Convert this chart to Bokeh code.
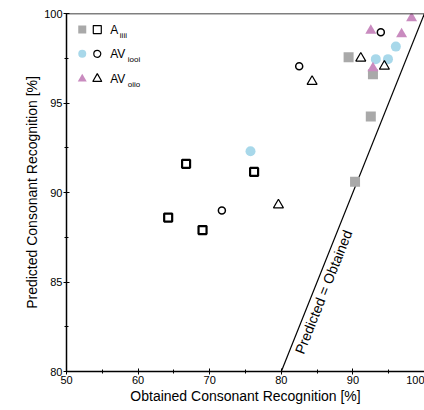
from bokeh.plotting import figure
from bokeh.models import Span, Range1d
from bokeh.core.properties import value
from bokeh.embed import file_html
from bokeh.resources import INLINE
import math

# Data (obtained x, predicted y)
a_filled_x = [89.4, 92.8, 92.5, 90.3]
a_filled_y = [97.55, 96.6, 94.25, 90.6]
a_open_x = [66.7, 76.2, 64.2, 69.0]
a_open_y = [91.6, 91.15, 88.6, 87.9]

av_i_filled_x = [75.7, 93.2, 94.9, 96.0]
av_i_filled_y = [92.3, 97.45, 97.45, 98.15]
av_i_open_x = [71.7, 82.5, 93.9]
av_i_open_y = [89.0, 97.05, 98.95]

av_o_filled_x = [92.5, 96.8, 98.2, 92.8]
av_o_filled_y = [99.05, 98.85, 99.75, 96.95]
av_o_open_x = [84.3, 91.1, 94.4, 79.6]
av_o_open_y = [96.2, 97.5, 97.05, 89.3]

identity = [80, 100]

legend_rows_y = [99.1, 97.75, 96.35]
legend_main = ["A", "AV", "AV"]
legend_sub = ["iiii", "iooi", "oiio"]

GRAY = "#a9a9a9"
BLUE = "#a8d8ea"
PINK = "#c98bbf"
FONT = "Liberation Sans"

p = figure(width=424, height=406, output_backend="svg", toolbar_location=None,
           x_range=Range1d(50, 100), y_range=Range1d(80, 100),
           min_border_left=66, min_border_top=13, min_border_right=0, min_border_bottom=30)
p.grid.visible = False
p.outline_line_color = None
p.background_fill_color = "white"
p.border_fill_color = "white"

for ax in (p.xaxis[0], p.yaxis[0]):
    ax.axis_line_color = "black"
    ax.axis_line_width = 1.5
    ax.major_tick_line_color = "black"
    ax.minor_tick_line_color = "black"
    ax.major_tick_in = 3
    ax.major_tick_out = 3
    ax.minor_tick_in = 2
    ax.minor_tick_out = 2
    ax.major_label_text_font = FONT
    ax.major_label_text_font_size = "11px"
    ax.major_label_text_color = "black"
    ax.axis_label_text_font = FONT
    ax.axis_label_text_font_size = "14px"
    ax.axis_label_text_font_style = "normal"
    ax.axis_label_text_color = "black"
    ax.major_label_standoff = 1
    ax.axis_label_standoff = 1
    ax.ticker.num_minor_ticks = 2

p.xaxis.ticker.desired_num_ticks = 5
p.yaxis.ticker.desired_num_ticks = 4
p.xaxis.axis_label = "Obtained Consonant Recognition [%]"
p.yaxis.axis_label = "Predicted Consonant Recognition [%]"

p.add_layout(Span(location=100, dimension="width", line_color="black", line_width=1.5))

# identity line
p.line(identity, identity, line_color="black", line_width=1.2)
p.text(x=[85.9], y=[84.45], text=["Predicted = Obtained"], angle=math.atan2(17.95, 7.16),
       text_font=value(FONT), text_font_size="14px", text_align="center",
       text_baseline="middle", text_color="black")

# data
p.scatter(a_filled_x, a_filled_y, marker="square", size=10, fill_color=GRAY, line_color=None)
p.scatter(av_i_filled_x, av_i_filled_y, marker="circle", size=10, fill_color=BLUE, line_color=None)
p.scatter(av_o_filled_x, av_o_filled_y, marker="triangle", size=11, fill_color=PINK, line_color=None)
p.scatter(a_open_x, a_open_y, marker="square", size=8, fill_color=None, line_color="black", line_width=2.2)
p.scatter(av_i_open_x, av_i_open_y, marker="circle", size=7, fill_color=None, line_color="black", line_width=1.5)
p.scatter(av_o_open_x, av_o_open_y, marker="triangle", size=10, fill_color=None, line_color="black", line_width=1.2)

# legend
lx1, lx2, ltx = 52.2, 54.3, 56.1
p.scatter([lx1], [legend_rows_y[0]], marker="square", size=8, fill_color=GRAY, line_color=None)
p.scatter([lx2], [legend_rows_y[0]], marker="square", size=8, fill_color=None, line_color="black", line_width=1.2)
p.scatter([lx1], [legend_rows_y[1]], marker="circle", size=8, fill_color=BLUE, line_color=None)
p.scatter([lx2], [legend_rows_y[1]], marker="circle", size=7, fill_color=None, line_color="black", line_width=1.2)
p.scatter([lx1], [legend_rows_y[2]], marker="triangle", size=9, fill_color=PINK, line_color=None)
p.scatter([lx2], [legend_rows_y[2]], marker="triangle", size=9, fill_color=None, line_color="black", line_width=1.2)

p.text(x=[ltx] * 3, y=legend_rows_y, text=legend_main, text_font=value(FONT),
       text_font_size="12px", text_baseline="middle", text_align="left", text_color="black")
p.text(x=[57.45, 58.55, 58.55], y=[r - 0.32 for r in legend_rows_y], text=legend_sub,
       text_font=value(FONT), text_font_size="8px", text_baseline="middle",
       text_align="left", text_color="black")

open("out.html", "w").write(file_html(p, INLINE))
